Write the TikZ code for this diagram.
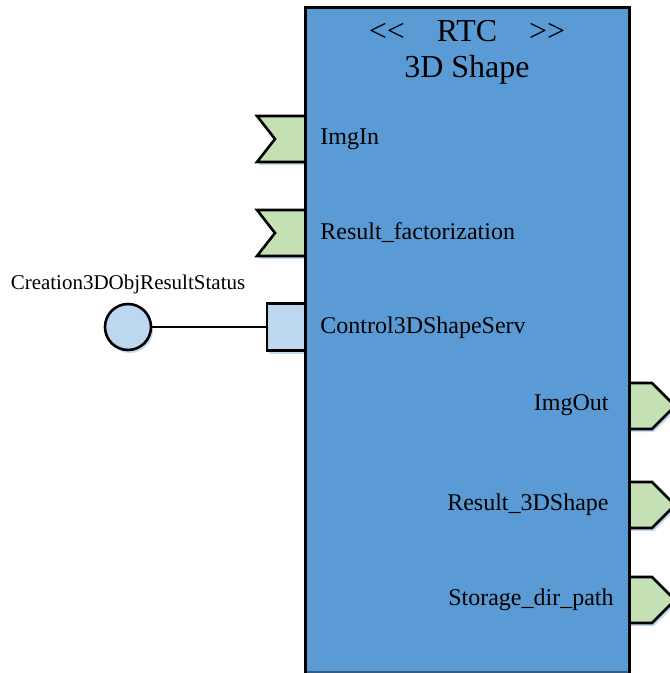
\documentclass[tikz,border=0pt]{standalone}
\usepackage{fontspec}
\setmainfont{Liberation Serif}
\usetikzlibrary{positioning,shadows}
\definecolor{rtcblue}{RGB}{91,155,213}
\definecolor{portgreen}{RGB}{197,224,180}
\definecolor{svcblue}{RGB}{189,215,238}
\definecolor{shadowblue}{RGB}{196,218,240}
\tikzset{
  soft shadow/.style={drop shadow={shadow xshift=1pt, shadow yshift=-1.5pt, fill=shadowblue, opacity=1}},
  dataport/.style={draw, line width=1.3pt, fill=portgreen, soft shadow},
  svcport/.style={draw, line width=1.3pt, fill=svcblue, soft shadow, inner sep=0pt},
  portname/.style={font=\fontsize{12}{14}\selectfont, inner sep=0pt},
}
\newcommand{\inport}[1]{\draw[dataport] (305,#1) -- (257,#1) -- (275,#1+23) -- (257,#1+46) -- (305,#1+46);}
\newcommand{\outport}[1]{\draw[dataport] (629,#1) -- (652,#1) -- (675,#1+23) -- (652,#1+46) -- (629,#1+46);}

\begin{document}
\begin{tikzpicture}[x=0.5pt, y=-0.5pt]
\useasboundingbox (0,0) rectangle (669,673);

\inport{116}
\inport{210}
\outport{383}
\outport{482}
\outport{577}
\node[svcport, rectangle, minimum width=19pt, minimum height=23.5pt] (ctrl) at (286,327) {};

\fill[rtcblue] (305,8) rectangle (629,672);
\draw[rtcblue!60!black, line width=0.6pt] (305,672) -- (629,672);
\draw[line width=1.5pt] (305,673) -- (305,8) -- (629,8) -- (629,673);

\node[font=\fontsize{16}{18}\selectfont, align=center] (title) at (467,52)
  {<\kern0pt<\quad RTC\quad >\kern0pt>\\3D Shape};

\node[portname, anchor=west] (imgin) at (320,139) {ImgIn};
\node[portname, anchor=west] (factin) at (320,233) {Result\_factorization};
\node[portname, anchor=west] (ctrlname) at (320,328) {Control3DShapeServ};
\node[portname, anchor=east] (imgout) at (609,405) {ImgOut};
\node[portname, anchor=east] (shapeout) at (609,505) {Result\_3DShape};
\node[portname, anchor=east] (pathout) at (614,600) {Storage\_dir\_path};

\node[svcport, circle, minimum size=23pt] (status) at (128,327) {};
\node[font=\fontsize{10.5}{12}\selectfont, inner sep=0pt] (statusname) at (128,284) {Creation3DObjResultStatus};

\draw[line width=1.3pt] (status) -- (ctrl);

\end{tikzpicture}
\end{document}
